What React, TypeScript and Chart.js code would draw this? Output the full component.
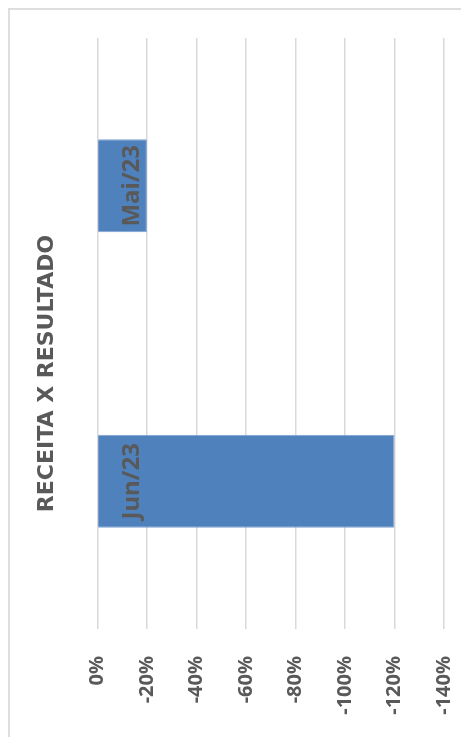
import React, { useEffect, useRef } from "react";
import { Chart, registerables } from "chart.js";

Chart.register(...registerables);

const categories: string[] = ["Mai/23", "Jun/23"];
const resultValues: number[] = [-20, -120];
const chartTitle = "RECEITA X RESULTADO";
const axisMin = -140;
const axisMax = 0;
const axisStep = 20;

const TEXT = "#595959";
const FONT = "'Noto Sans', 'Open Sans', sans-serif";
const TITLE_FONT = "'DejaVu Sans', 'Noto Sans', sans-serif";

const barLabelPlugin = {
  id: "barLabels",
  afterDatasetsDraw(chart: any) {
    const ctx = chart.ctx;
    const meta = chart.getDatasetMeta(0);
    ctx.save();
    ctx.fillStyle = TEXT;
    ctx.font = `bold 24px ${FONT}`;
    ctx.textAlign = "center";
    ctx.textBaseline = "middle";
    meta.data.forEach((el: any, i: number) => {
      const label = chart.data.labels[i];
      ctx.save();
      ctx.translate(el.base + 34, el.y);
      ctx.rotate(-Math.PI / 2);
      ctx.fillText(label, 0, 0);
      ctx.restore();
    });
    ctx.restore();
  },
};

export default function App() {
  const ref = useRef<HTMLCanvasElement | null>(null);

  useEffect(() => {
    if (!ref.current) return;
    const chart = new Chart(ref.current, {
      type: "bar",
      data: {
        labels: categories,
        datasets: [
          {
            label: "Resultado",
            data: resultValues,
            backgroundColor: "#4F81BD",
            borderColor: "#7FA3CF",
            borderWidth: 1,
            barPercentage: 0.315,
            categoryPercentage: 1,
            xAxisID: "x",
          },
        ],
      },
      options: {
        indexAxis: "y",
        responsive: false,
        animation: false,
        layout: { padding: { top: 0, right: 25, left: 0, bottom: 0 } },
        plugins: {
          legend: { display: false },
          tooltip: { enabled: false },
          title: {
            display: true,
            position: "left",
            text: chartTitle,
            color: TEXT,
            font: { family: TITLE_FONT, size: 22, weight: "bold" },
            padding: { top: 24, bottom: 37 },
          },
        },
        scales: {
          x: {
            type: "linear",
            position: "bottom",
            min: axisMin,
            max: axisMax,
            reverse: true,
            afterFit: (s: any) => {
              s.height = 108;
              s.paddingLeft = 0;
              s.paddingRight = 0;
            },
            border: { display: false },
            grid: { color: "#d9d9d9", lineWidth: 1.5, drawTicks: false },
            ticks: {
              stepSize: axisStep,
              minRotation: 90,
              maxRotation: 90,
              padding: 27,
              color: TEXT,
              font: { family: FONT, size: 20, weight: "bold" },
              callback: (v: any) => `${v}%`,
            },
          },
          xTopSpace: {
            type: "linear",
            axis: "x",
            position: "top",
            display: true,
            afterFit: (s: any) => {
              s.height = 28;
              s.paddingLeft = 0;
              s.paddingRight = 0;
            },
            border: { display: false },
            grid: { display: false },
            ticks: { display: false },
          },
          y: {
            display: false,
          },
        },
      },
      plugins: [barLabelPlugin],
    } as any);
    return () => chart.destroy();
  }, []);

  return (
    <div
      style={{
        width: 461,
        height: 729,
        boxSizing: "border-box",
        borderTop: "2px solid #dedede",
        borderLeft: "2px solid #dedede",
        position: "relative",
        overflow: "hidden",
      }}
    >
      <canvas ref={ref} width={459} height={727} style={{ display: "block" }} />
    </div>
  );
}
